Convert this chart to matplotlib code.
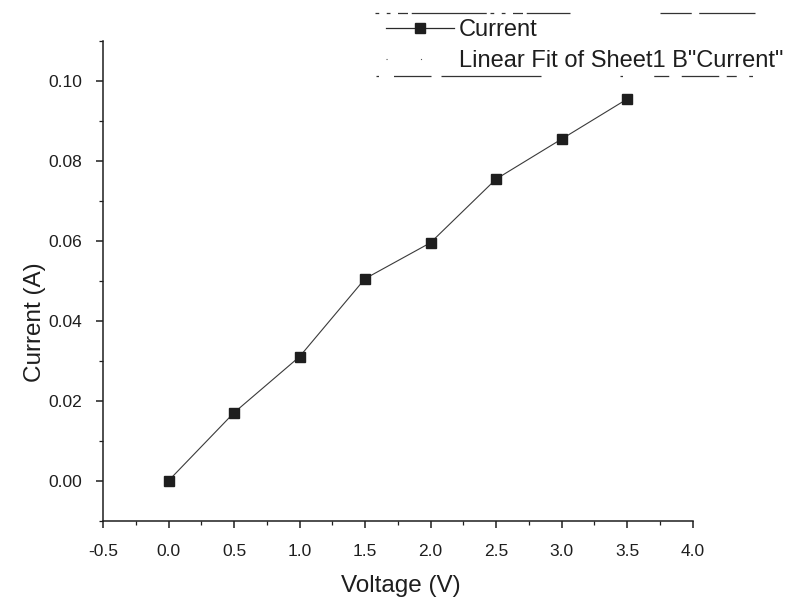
import numpy as np
import matplotlib
matplotlib.use("Agg")
import matplotlib.pyplot as plt
from matplotlib.lines import Line2D
from matplotlib.ticker import MultipleLocator, FormatStrFormatter

plt.rcParams["font.family"] = ["Liberation Sans", "DejaVu Sans"]

voltage = [0.0, 0.5, 1.0, 1.5, 2.0, 2.5, 3.0, 3.5]
current = [0.0, 0.017, 0.031, 0.0505, 0.0595, 0.0754, 0.0854, 0.0954]

x_label = "Voltage (V)"
y_label = "Current (A)"
series_label = "Current"
fit_label = 'Linear Fit of Sheet1 B"Current"'

ink = "#1e1e1e"

fig = plt.figure(figsize=(7.9, 6.05), dpi=100)
ax = fig.add_axes([0.1304, 0.1393, 0.7462, 0.7934])

ax.plot(voltage, current, color="#3a3a3a", lw=0.8, marker="s", ms=7.5,
        mfc=ink, mec=ink, zorder=3)

ax.set_xlim(-0.5, 4.0)
ax.set_ylim(-0.01, 0.11)
ax.xaxis.set_major_locator(MultipleLocator(0.5))
ax.xaxis.set_minor_locator(MultipleLocator(0.25))
ax.yaxis.set_major_locator(MultipleLocator(0.02))
ax.yaxis.set_minor_locator(MultipleLocator(0.01))
ax.xaxis.set_major_formatter(FormatStrFormatter("%.1f"))
ax.yaxis.set_major_formatter(FormatStrFormatter("%.2f"))

for s in ("top", "right"):
    ax.spines[s].set_visible(False)
for s in ("left", "bottom"):
    ax.spines[s].set_color(ink)
    ax.spines[s].set_linewidth(1.1)

ax.tick_params(which="major", direction="out", length=5, width=1.1,
               colors=ink, labelsize=12.5)
ax.tick_params(which="minor", direction="out", length=3, width=0.9, colors=ink)
ax.tick_params(axis="x", which="major", pad=12)
ax.tick_params(axis="y", which="major", pad=10)

ax.set_xlabel(x_label, fontsize=17.5, color=ink, labelpad=11, x=0.506)
ax.set_ylabel(y_label, fontsize=17.5, color=ink, labelpad=1.5, y=0.414)

handles = [
    Line2D([], [], color="#2a2a2a", lw=0.9, marker="s", ms=7,
           mfc=ink, mec=ink),
    Line2D([], [], color="#555555", lw=0.8, linestyle=(0, (1, 30))),
]
leg = ax.legend(handles, [series_label, fit_label], loc="upper left",
                bbox_to_anchor=(386 / 790, 1 - 19 / 605),
                bbox_transform=fig.transFigure, frameon=False,
                fontsize=17, handlelength=2.9, handletextpad=0.2,
                labelspacing=0.4, borderaxespad=0, borderpad=0)
for t in leg.get_texts():
    t.set_color(ink)

# broken frame edges above and below the legend entries
edge = dict(color="#333333", lw=0.9)
fig.add_artist(Line2D([375 / 790, 570 / 790], [1 - 13 / 605] * 2,
                      linestyle=(0, (3, 6, 3, 6, 8, 3, 60, 3)), **edge))
fig.add_artist(Line2D([660 / 790, 760 / 790], [1 - 13 / 605] * 2,
                      linestyle=(0, (25, 6, 45, 20, 2, 10)), **edge))
fig.add_artist(Line2D([376 / 790, 545 / 790], [1 - 76 / 605] * 2,
                      linestyle=(0, (2, 12, 30, 8, 80, 6, 25, 6)), **edge))
fig.add_artist(Line2D([620 / 790, 755 / 790], [1 - 76 / 605] * 2,
                      linestyle=(0, (2, 25, 12, 10, 30, 6, 8, 10, 3, 30)),
                      **edge))

fig.savefig("out.png", dpi=100)
